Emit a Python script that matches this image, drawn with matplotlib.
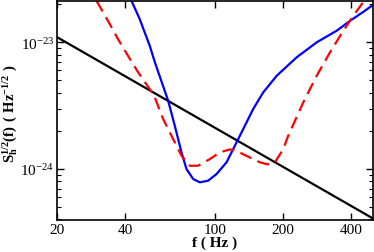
import matplotlib
matplotlib.use("Agg")
import matplotlib.pyplot as plt
import matplotlib.ticker as ticker

plt.rcParams['font.family'] = ['Liberation Serif', 'DejaVu Serif']
plt.rcParams['mathtext.fontset'] = 'custom'
plt.rcParams['mathtext.rm'] = 'Liberation Serif'
plt.rcParams['mathtext.bf'] = 'Liberation Serif:bold'

# black straight line
f_black = [20, 495]
h_black = [1.10e-23, 4.1e-25]

# blue solid curve (log10 of S_h^1/2)
f_blue = [42.7, 46.4, 51.4, 54.1, 62.0, 66.3, 71.0, 74.7, 80.0, 85.6,
          93.1, 101.5, 112.3, 120.2, 133.1, 147.3, 163.1, 187.0, 229.3,
          281.0, 344.5, 394.6, 451.8, 497.2]
logh_blue = [-22.672, -22.816, -23.027, -23.155, -23.461, -23.658,
             -23.868, -24.000, -24.079, -24.105, -24.092, -24.039, -23.947,
             -23.842, -23.684, -23.526, -23.395, -23.264, -23.118, -23.000,
             -22.908, -22.830, -22.759, -22.706]

# red dashed curve
f_red = [29.9, 33.6, 37.2, 41.2, 45.7, 51.4, 54.1, 58.9, 65.2, 71.0, 77.3,
         84.1, 94.8, 105.0, 116.2, 124.4, 135.4, 147.3, 157.7, 168.9, 176.5,
         183.8, 200.0, 210.4, 245.2, 281.0, 321.8, 368.6, 408.0, 444.6, 459.8]
logh_red = [-22.672, -22.830, -22.974, -23.106, -23.237, -23.369, -23.434,
            -23.605, -23.763, -23.895, -23.974, -23.974, -23.921, -23.868,
            -23.845, -23.856, -23.890, -23.921, -23.947, -23.961, -23.963,
            -23.947, -23.842, -23.737, -23.474, -23.264, -23.079, -22.908,
            -22.790, -22.698, -22.650]

h_blue = [10 ** v for v in logh_blue]
h_red = [10 ** v for v in logh_red]

y_major = [1e-24, 1e-23]
y_minor = [m * 1e-25 for m in range(4, 10)] + [m * 1e-24 for m in range(2, 10)] + [2e-23]

fig = plt.figure(figsize=(3.74, 2.53), dpi=100)
ax = fig.add_axes([0.1524, 0.1265, 0.8436, 0.8655])

ax.plot(f_black, h_black, color='black', lw=1.6)
ax.plot(f_blue, h_blue, color='#0000ff', lw=1.6)
ax.plot(f_red, h_red, color='#ff0000', lw=1.6, dashes=(5.5, 3))

ax.set_xscale('log')
ax.set_yscale('log')
ax.set_xlim(20, 496)
ax.set_ylim(3.96e-25, 2.12e-23)

ax.xaxis.set_major_locator(ticker.FixedLocator([20, 40, 100, 200, 400]))
ax.xaxis.set_major_formatter(ticker.FixedFormatter(['20', '40', '100', '200', '400']))
ax.xaxis.set_minor_locator(ticker.NullLocator())
ax.yaxis.set_major_locator(ticker.FixedLocator(y_major))
ax.yaxis.set_major_formatter(ticker.LogFormatterSciNotation())
ax.yaxis.set_minor_locator(ticker.FixedLocator(y_minor))
ax.yaxis.set_minor_formatter(ticker.NullFormatter())

ax.tick_params(which='both', direction='in', top=True, right=True,
               labelsize=11, pad=2)
ax.tick_params(which='major', length=5, width=1)
ax.tick_params(which='minor', length=3, width=0.8)
for s in ax.spines.values():
    s.set_linewidth(1.2)

ax.set_xlabel('f ( Hz )', fontsize=11, fontweight='bold', labelpad=0)
ax.set_ylabel(r'$\mathbf{S_h^{1/2}(f)\ (\ Hz^{-1/2}\ )}$', fontsize=10.5)
ax.yaxis.set_label_coords(-0.118, 0.49)

fig.savefig('out.png', dpi=100)
